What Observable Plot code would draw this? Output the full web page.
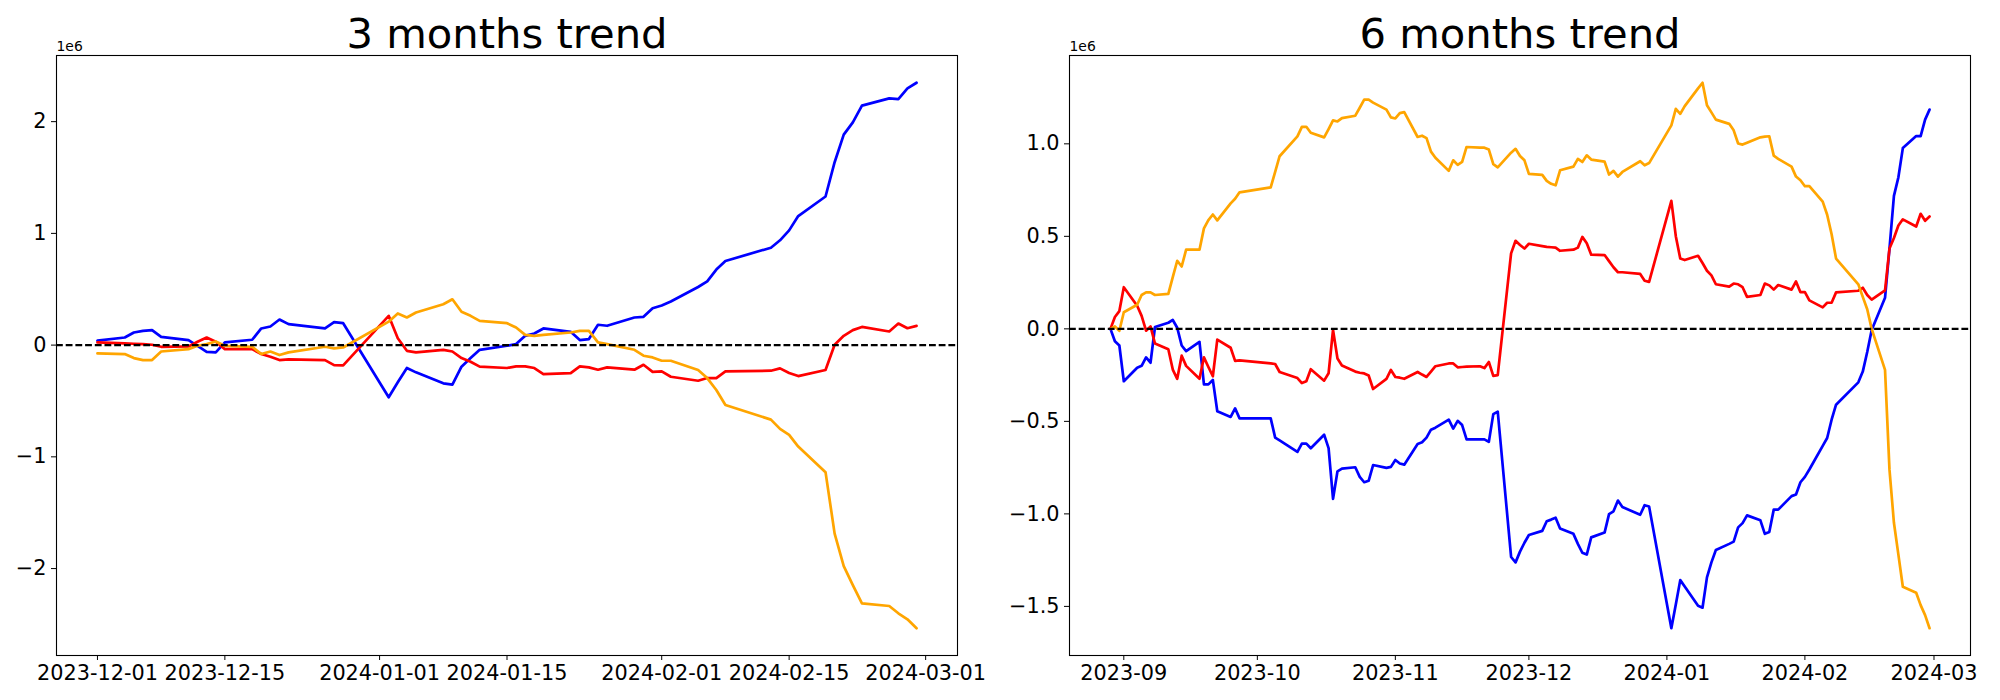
<!DOCTYPE html>
<html>
<head>
<meta charset="utf-8">
<script src="https://cdn.jsdelivr.net/npm/d3@7"></script>
<script src="https://cdn.jsdelivr.net/npm/@observablehq/plot@0.6"></script>
<style>
html, body { margin: 0; padding: 0; background: #fff; }
#wrap { position: relative; width: 2000px; height: 700px; font-family: "DejaVu Sans", sans-serif; }
#left, #right { position: absolute; top: 0; width: 1000px; height: 700px; }
#left { left: 0; }
#right { left: 1000px; }
svg { display: block; }
</style>
</head>
<body>
<div id="wrap"><div id="left"></div><div id="right"></div></div>
<script>
// ---------- trading days (KRX calendar) ----------
const tradingDays = [
  ["2023-08", [29, 30, 31]],
  ["2023-09", [1, 4, 5, 6, 7, 8, 11, 12, 13, 14, 15, 18, 19, 20, 21, 22, 25, 26, 27]],
  ["2023-10", [4, 5, 6, 10, 11, 12, 13, 16, 17, 18, 19, 20, 23, 24, 25, 26, 27, 30, 31]],
  ["2023-11", [1, 2, 3, 6, 7, 8, 9, 10, 13, 14, 15, 16, 17, 20, 21, 22, 23, 24, 27, 28, 29, 30]],
  ["2023-12", [1, 4, 5, 6, 7, 8, 11, 12, 13, 14, 15, 18, 19, 20, 21, 22, 26, 27, 28]],
  ["2024-01", [2, 3, 4, 5, 8, 9, 10, 11, 12, 15, 16, 17, 18, 19, 22, 23, 24, 25, 26, 29, 30, 31]],
  ["2024-02", [1, 2, 5, 6, 7, 8, 13, 14, 15, 16, 19, 20, 21, 22, 23, 26, 27, 28, 29]]
];
const dates6 = tradingDays.flatMap(([m, ds]) => ds.map(d => new Date(`${m}-${String(d).padStart(2, "0")}`)));
const dates3 = dates6.filter(d => d >= new Date("2023-12-01"));

// ---------- 3 months trend (values in 1e6) ----------
const blue3 = [
  0.04, 0.068, 0.113, 0.128, 0.134, 0.074, 0.045, -0.006, -0.06, -0.065, 0.024, 0.048, 0.149, 0.167, 0.229, 0.188, 0.149, 0.205, 0.196,
  -0.467, -0.333, -0.205, -0.244, -0.342, -0.354, -0.193, -0.116, -0.042, -0.006, 0.009, 0.083, 0.104, 0.149, 0.119, 0.045, 0.054, 0.182, 0.173, 0.247, 0.253, 0.33,
  0.355, 0.39, 0.52, 0.571, 0.676, 0.753, 0.872, 0.938, 1.027, 1.155, 1.33, 1.637, 1.884, 1.994, 2.143, 2.208, 2.202, 2.298, 2.348
];
const red3 = [
  0.024, 0.015, 0.012, 0.009, 0.003, -0.015, -0.012, 0.03, 0.068, 0.03, -0.036, -0.036, -0.08, -0.104, -0.134, -0.128, -0.134, -0.179, -0.182,
  0.262, 0.062, -0.051, -0.065, -0.042, -0.057, -0.116, -0.149, -0.193, -0.205, -0.19, -0.19, -0.205, -0.259, -0.25, -0.19, -0.199, -0.22, -0.199, -0.22, -0.176, -0.24,
  -0.235, -0.283, -0.319, -0.295, -0.295, -0.235, -0.229, -0.208, -0.25, -0.277, -0.223, 0.003, 0.083, 0.134, 0.163, 0.122, 0.193, 0.151, 0.172
];
const orange3 = [
  -0.074, -0.08, -0.116, -0.134, -0.134, -0.057, -0.036, -0.006, 0.009, 0.033, -0.006, -0.015, -0.08, -0.057, -0.089, -0.065, -0.015, -0.03, -0.021,
  0.21, 0.283, 0.247, 0.292, 0.366, 0.41, 0.298, 0.262, 0.217, 0.196, 0.158, 0.092, 0.083, 0.092, 0.113, 0.128, 0.128, 0.024, 0.009, -0.042, -0.095, -0.11,
  -0.14, -0.14, -0.223, -0.295, -0.402, -0.536, -0.667, -0.75, -0.803, -0.908, -1.137, -1.687, -1.978, -2.148, -2.311, -2.335, -2.4, -2.454, -2.534
];

// ---------- 6 months trend (values in 1e6) ----------
const blue6 = [
  0, -0.067, -0.09,
  -0.283, -0.21, -0.2, -0.154, -0.183, 0.01, 0.033, 0.048, 0.006, -0.09, -0.12, -0.07, -0.3, -0.3, -0.276, -0.445, -0.476, -0.43, -0.484,
  -0.484, -0.588, -0.603, -0.665, -0.62, -0.62, -0.645, -0.572, -0.645, -0.919, -0.77, -0.755, -0.748, -0.8, -0.829, -0.821, -0.736, -0.751, -0.746,
  -0.709, -0.728, -0.734, -0.622, -0.613, -0.588, -0.545, -0.534, -0.491, -0.539, -0.497, -0.52, -0.597, -0.597, -0.597, -0.611, -0.461, -0.447, -1.233, -1.262, -1.204, -1.156,
  -1.114, -1.092, -1.04, -1.031, -1.021, -1.079, -1.108, -1.162, -1.21, -1.22, -1.127, -1.101, -1.001, -0.986, -0.928, -0.963, -1.005, -0.953, -0.96,
  -1.618, -1.49, -1.358, -1.393, -1.497, -1.507, -1.343, -1.262, -1.195, -1.162, -1.15, -1.073, -1.05, -1.008, -1.035, -1.108, -1.098, -0.977, -0.977, -0.904, -0.895, -0.829,
  -0.8, -0.76, -0.632, -0.59, -0.491, -0.41, -0.289, -0.231, -0.125, -0.006, 0.168, 0.434, 0.719, 0.819, 0.977, 1.042, 1.042, 1.131, 1.185
];
const red6 = [
  0, 0.064, 0.096,
  0.225, 0.125, 0.07, -0.01, 0.013, -0.079, -0.11, -0.22, -0.27, -0.145, -0.2, -0.27, -0.154, -0.206, -0.256, -0.058, -0.102, -0.173, -0.17,
  -0.187, -0.19, -0.233, -0.266, -0.293, -0.283, -0.218, -0.28, -0.24, -0.006, -0.16, -0.198, -0.231, -0.237, -0.241, -0.252, -0.325, -0.27, -0.222,
  -0.26, -0.264, -0.27, -0.233, -0.247, -0.26, -0.231, -0.202, -0.187, -0.187, -0.208, -0.206, -0.204, -0.202, -0.212, -0.179, -0.254, -0.25, 0.408, 0.476, 0.453, 0.434,
  0.46, 0.447, 0.443, 0.441, 0.439, 0.422, 0.428, 0.439, 0.497, 0.463, 0.401, 0.399, 0.366, 0.333, 0.306, 0.306, 0.297, 0.26, 0.254,
  0.692, 0.501, 0.38, 0.372, 0.395, 0.356, 0.314, 0.289, 0.241, 0.228, 0.245, 0.241, 0.225, 0.173, 0.183, 0.245, 0.235, 0.212, 0.237, 0.212, 0.256, 0.198,
  0.198, 0.154, 0.116, 0.141, 0.141, 0.197, 0.206, 0.222, 0.183, 0.158, 0.208, 0.434, 0.491, 0.559, 0.592, 0.553, 0.622, 0.584, 0.607
];
const orange6 = [
  0, 0.013, -0.01,
  0.09, 0.13, 0.183, 0.197, 0.197, 0.183, 0.189, 0.28, 0.368, 0.337, 0.428, 0.428, 0.543, 0.588, 0.618, 0.586, 0.678, 0.703, 0.738,
  0.765, 0.848, 0.933, 1.04, 1.092, 1.092, 1.06, 1.035, 1.08, 1.127, 1.121, 1.139, 1.152, 1.195, 1.239, 1.239, 1.223, 1.185, 1.143,
  1.137, 1.166, 1.171, 1.037, 1.044, 1.031, 0.958, 0.925, 0.854, 0.911, 0.886, 0.902, 0.983, 0.979, 0.979, 0.969, 0.89, 0.873, 0.952, 0.973, 0.934, 0.911,
  0.838, 0.832, 0.8, 0.784, 0.776, 0.857, 0.877, 0.919, 0.902, 0.938, 0.915, 0.904, 0.834, 0.854, 0.823, 0.848, 0.906, 0.884, 0.896,
  1.1, 1.189, 1.162, 1.204, 1.3, 1.33, 1.208, 1.17, 1.131, 1.108, 1.073, 1.002, 0.996, 1.006, 1.035, 1.039, 1.041, 0.936, 0.919, 0.877, 0.823, 0.803,
  0.771, 0.771, 0.688, 0.617, 0.511, 0.38, 0.241, 0.173, 0.106, 0.0, -0.222, -0.761, -1.048, -1.22, -1.394, -1.426, -1.493, -1.547, -1.618
];

// ---------- ticks ----------
const xTicks3 = ["2023-12-01", "2023-12-15", "2024-01-01", "2024-01-15", "2024-02-01", "2024-02-15", "2024-03-01"];
const xTicks6 = ["2023-09-01", "2023-10-01", "2023-11-01", "2023-12-01", "2024-01-01", "2024-02-01", "2024-03-01"];
const yTicks3 = [-2, -1, 0, 1, 2];
const yTicks6 = [-1.5, -1.0, -0.5, 0.0, 0.5, 1.0];
const titles = ["3 months trend", "6 months trend"];
const offsetLabel = "1e6";
const colors = { blue: "#0000ff", red: "#ff0000", orange: "#ffa500" };

function pad(extent) {
  const [a, b] = extent.map(Number);
  const m = (b - a) * 0.05;
  return [a - m, b + m];
}

function panel(o) {
  const xd = pad(d3.extent(o.dates)).map(t => new Date(t));
  const yd = pad(d3.extent([...o.blue, ...o.red, ...o.orange]));
  const line = (vals, c) => Plot.line(o.dates, {x: d => d, y: (d, i) => vals[i], stroke: c, strokeWidth: 2.7});
  return Plot.plot({
    width: 1000, height: 700,
    marginTop: 55, marginBottom: 45, marginLeft: o.ml, marginRight: o.mr,
    style: {fontFamily: "DejaVu Sans, sans-serif", fontSize: "20.8px", color: "black", background: "white", overflow: "visible"},
    x: {type: "utc", domain: xd, ticks: o.xTicks.map(s => new Date(s)), tickFormat: d3.utcFormat(o.xFmt), label: null, tickSize: 5, tickPadding: 5},
    y: {domain: yd, ticks: o.yTicks, tickFormat: d3.format(o.yFmt), label: null, tickSize: 5, tickPadding: 5},
    marks: [
      line(o.blue, colors.blue),
      line(o.red, colors.red),
      line(o.orange, colors.orange),
      Plot.ruleY([0], {stroke: "black", strokeWidth: 2.4, strokeDasharray: "6.8,2.9"}),
      Plot.frame({stroke: "black", strokeWidth: 1.1}),
      Plot.text([o.title], {frameAnchor: "top", lineAnchor: "bottom", dy: -8, fontSize: 41.7, text: d => d, fill: "black"}),
      Plot.text([offsetLabel], {frameAnchor: "top-left", textAnchor: "start", lineAnchor: "bottom", dy: -5, fontSize: 13.9, text: d => d, fill: "black"})
    ]
  });
}

document.getElementById("left").append(panel({
  dates: dates3, blue: blue3, red: red3, orange: orange3, title: titles[0],
  xTicks: xTicks3, xFmt: "%Y-%m-%d", yTicks: yTicks3, yFmt: "d", ml: 56, mr: 43
}));
document.getElementById("right").append(panel({
  dates: dates6, blue: blue6, red: red6, orange: orange6, title: titles[1],
  xTicks: xTicks6, xFmt: "%Y-%m", yTicks: yTicks6, yFmt: ".1f", ml: 69, mr: 30
}));
</script>
</body>
</html>
